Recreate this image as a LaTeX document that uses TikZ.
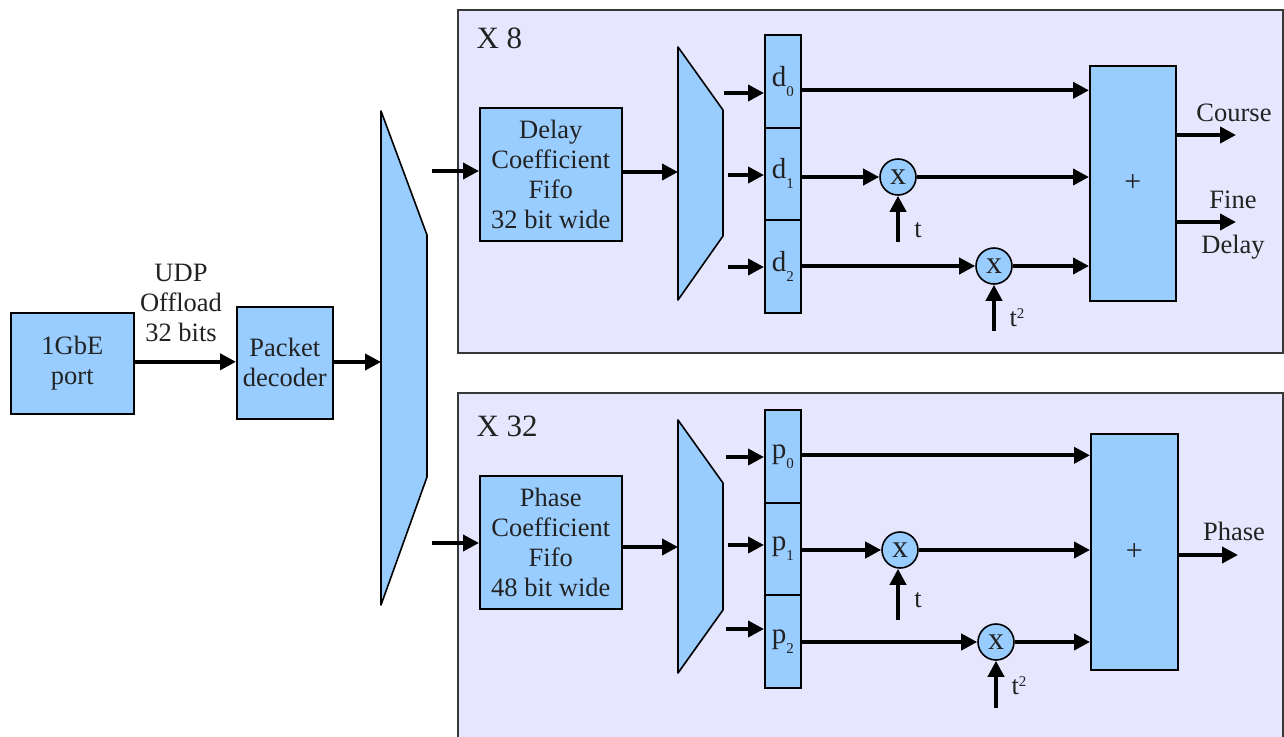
\documentclass[tikz,border=0pt]{standalone}
\usepackage{fontspec}
\setmainfont{Liberation Serif}
\usetikzlibrary{arrows.meta}
\definecolor{blockblue}{RGB}{153,204,255}
\definecolor{panelbg}{RGB}{230,230,255}
\definecolor{ink}{RGB}{34,34,34}
\newcommand\lowsub[1]{\raisebox{-10pt}{\fontsize{15}{15}\selectfont #1}}
\newcommand\highsup[1]{\raisebox{8pt}{\fontsize{15}{15}\selectfont #1}}
\tikzset{
  txt/.style={font=\fontsize{26.5}{30}\selectfont, text=ink},
  box/.style={draw=black, line width=1.6pt, fill=blockblue, anchor=north west,
    inner sep=0pt, align=center, txt},
  cell/.style={box, minimum width=36pt, font=\fontsize{29}{30}\selectfont},
  sumbox/.style={box, font=\fontsize{30}{30}\selectfont},
  mult/.style={draw=black, line width=1.6pt, fill=blockblue, circle,
    minimum size=36pt, inner sep=0pt, font=\fontsize{32}{32}\selectfont, text=ink},
  lanelabel/.style={txt, anchor=west, font=\fontsize{31}{31}\selectfont},
  panel/.style={draw=ink!90, line width=1.4pt, fill=panelbg},
  muxshape/.style={draw=black, line width=1.6pt, fill=blockblue, line join=round},
  arr/.style={line width=3.8pt, -{Triangle[length=16pt,width=16pt]}},
}
\begin{document}
\begin{tikzpicture}[x=1pt,y=-1pt]
\useasboundingbox (0,0) rectangle (1284,736);
\fill[white] (0,0) rectangle (1284,736);

% replicated lanes
\draw[panel] (458,10) rectangle (1283,353);
\draw[panel] (458,393) rectangle (1283,745);
\node[lanelabel] (x8) at (473,38) {X 8};
\node[lanelabel] (x32) at (473,426) {X 32};

% network front end
\node[box, minimum width=123pt, minimum height=101pt] (gbe) at (10,312) {1GbE\\port};
\node[box, minimum width=96pt, minimum height=112pt] (pkt) at (236,306) {Packet\\decoder};
\draw[arr] (gbe.east) ++(0,-1.5) coordinate (g0) -- (g0 -| pkt.west);
\node[txt, align=center] (udp) at (181,303) {UDP\\Offload\\32 bits};

% main demultiplexer
\draw[muxshape] (381,111) -- (427,235) -- (427,477) -- (381,605) -- cycle;
\coordinate (demuxin) at (381,362);
\draw[arr] (pkt.east |- demuxin) -- (demuxin);

% ---------- delay lane ----------
\node[box, minimum width=142pt, minimum height=133pt] (dfifo) at (479,107)
  {Delay\\Coefficient\\Fifo\\32 bit wide};
\coordinate (dsrc) at (432,171);
\draw[arr] (dsrc) -- (dsrc -| dfifo.west);
\draw[muxshape] (678,47) -- (723,110) -- (723,236) -- (678,300) -- cycle;
\coordinate (dmuxin) at (678,172);
\draw[arr] (dfifo.east |- dmuxin) -- (dmuxin);

\node[cell, minimum height=93pt] (d0) at (764,34) {d\lowsub{0}};
\node[cell, minimum height=92pt] (d1) at (764,127) {d\lowsub{1}};
\node[cell, minimum height=93pt] (d2) at (764,219) {d\lowsub{2}};
\coordinate (da0) at (724,93);
\coordinate (da1) at (728,175);
\coordinate (da2) at (728,267);
\draw[arr] (da0) -- (da0 -| d0.west);
\draw[arr] (da1) -- (da1 -| d1.west);
\draw[arr] (da2) -- (da2 -| d2.west);

\node[sumbox, minimum width=86pt, minimum height=235pt] (dadd) at (1089,65) {+};
\node[mult] (dm1) at (898,177) {x};
\node[mult] (dm2) at (994,266) {x};
\coordinate (dt1) at (898,242);
\coordinate (dt2) at (994,331);
\draw[arr] ([yshift=-9pt]d0.east) -- ([yshift=-9pt]d0.east -| dadd.west);
\draw[arr] (d1.east |- dm1) -- (dm1.west);
\draw[arr] (dm1.east) -- (dm1 -| dadd.west);
\draw[arr] (d2.east |- dm2) -- (dm2.west);
\draw[arr] (dm2.east) -- (dm2 -| dadd.west);
\draw[arr] (dt1) -- (dm1.south);
\draw[arr] (dt2) -- (dm2.south);
\node[txt] (tl1) at (918,230) {t};
\node[txt] (tl2) at (1017,318) {t\highsup{2}};

\coordinate (course) at (1236,135);
\coordinate (fine) at (1236,222);
\draw[arr] (dadd.east |- course) -- (course);
\draw[arr] (dadd.east |- fine) -- (fine);
\node[txt] (coursel) at (1234,113) {Course};
\node[txt] (finel) at (1233,200) {Fine};
\node[txt] (delayl) at (1233,247) {Delay};

% ---------- phase lane ----------
\node[box, minimum width=142pt, minimum height=133pt] (pfifo) at (479,475)
  {Phase\\Coefficient\\Fifo\\48 bit wide};
\coordinate (psrc) at (432,543);
\draw[arr] (psrc) -- (psrc -| pfifo.west);
\draw[muxshape] (678,420) -- (723,483) -- (723,610) -- (678,673) -- cycle;
\coordinate (pmuxin) at (678,547);
\draw[arr] (pfifo.east |- pmuxin) -- (pmuxin);

\node[cell, minimum height=93pt] (p0) at (764,409) {p\lowsub{0}};
\node[cell, minimum height=92pt] (p1) at (764,502) {p\lowsub{1}};
\node[cell, minimum height=93pt] (p2) at (764,594) {p\lowsub{2}};
\coordinate (pa0) at (726,457);
\coordinate (pa1) at (728,545);
\coordinate (pa2) at (726,629);
\draw[arr] (pa0) -- (pa0 -| p0.west);
\draw[arr] (pa1) -- (pa1 -| p1.west);
\draw[arr] (pa2) -- (pa2 -| p2.west);

\node[sumbox, minimum width=87pt, minimum height=236pt] (padd) at (1090,433) {+};
\node[mult] (pm1) at (900,550) {x};
\node[mult] (pm2) at (996,642) {x};
\coordinate (pt1) at (898,620);
\coordinate (pt2) at (996,708);
\draw[arr] ([yshift=1pt]p0.east) -- ([yshift=1pt]p0.east -| padd.west);
\draw[arr] (p1.east |- pm1) -- (pm1.west);
\draw[arr] (pm1.east) -- (pm1 -| padd.west);
\draw[arr] (p2.east |- pm2) -- (pm2.west);
\draw[arr] (pm2.east) -- (pm2 -| padd.west);
\draw[arr] (pt1) -- (pt1 |- pm1.south);
\draw[arr] (pt2) -- (pm2.south);
\node[txt] (ptl1) at (918,600) {t};
\node[txt] (ptl2) at (1019,686) {t\highsup{2}};

\coordinate (phase) at (1238,555);
\draw[arr] (padd.east |- phase) -- (phase);
\node[txt] (phasel) at (1234,531) {Phase};
\end{tikzpicture}
\end{document}
